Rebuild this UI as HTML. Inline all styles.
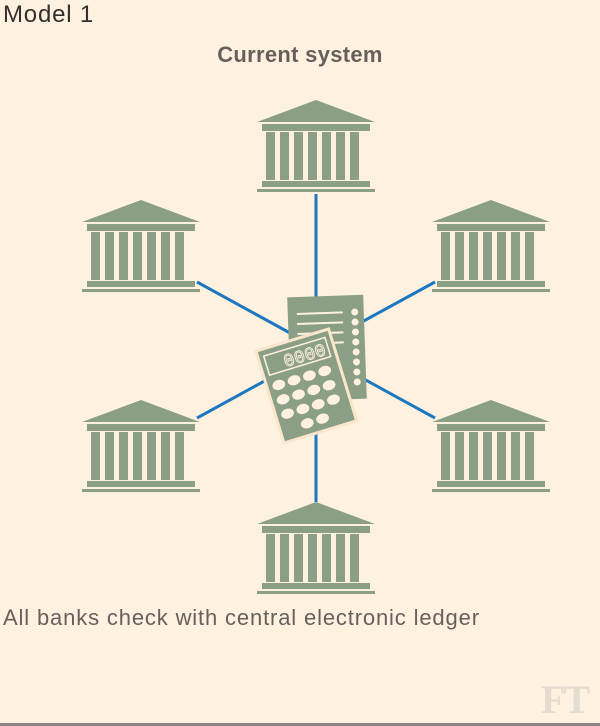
<!DOCTYPE html>
<html><head><meta charset="utf-8"><style>
html,body{margin:0;padding:0;background:#fff1e0;}
body{width:600px;height:726px;position:relative;overflow:hidden;font-family:"Liberation Sans",sans-serif;}
.t1{position:absolute;left:3px;top:1px;font-size:24px;letter-spacing:0.8px;color:#33302e;}
.t2{position:absolute;left:0;width:600px;top:42px;text-align:center;font-size:22px;font-weight:bold;color:#66605c;letter-spacing:0.3px;}
.cap{position:absolute;left:3px;top:605px;font-size:22px;letter-spacing:0.85px;color:#66605c;}
.ft{position:absolute;left:541px;top:676px;font-family:"Liberation Serif",serif;font-size:40px;font-weight:bold;color:#e6dbd0;letter-spacing:-2px;}
.bl{position:absolute;left:0;top:723px;width:600px;height:3px;background:#8a8580;}
</style></head><body>
<div class="t1">Model 1</div>
<div class="t2">Current system</div>
<svg width="600" height="726" style="position:absolute;left:0;top:0">
<defs>
<g id="bank" fill="#8a9f85">
<polygon points="0,24 59,2 118,24"/>
<rect x="5" y="26" width="108" height="7"/>
<rect x="9" y="34" width="9" height="48"/>
<rect x="23" y="34" width="9" height="48"/>
<rect x="37" y="34" width="9" height="48"/>
<rect x="51" y="34" width="9" height="48"/>
<rect x="65" y="34" width="9" height="48"/>
<rect x="79" y="34" width="9" height="48"/>
<rect x="93" y="34" width="9" height="48"/>
<rect x="5" y="83" width="108" height="6"/>
<rect x="0" y="91" width="118" height="3"/>
</g>
</defs>
<g stroke="#1e78c0" stroke-width="3">
<line x1="316" y1="194" x2="316" y2="300"/>
<line x1="316" y1="430" x2="316" y2="502"/>
<line x1="197" y1="282" x2="290" y2="333"/>
<line x1="435" y1="282" x2="360" y2="323"/>
<line x1="197" y1="418" x2="270" y2="378"/>
<line x1="435" y1="418" x2="362" y2="378"/>
</g>
<use href="#bank" x="257" y="98"/>
<use href="#bank" x="82" y="198"/>
<use href="#bank" x="432" y="198"/>
<use href="#bank" x="82" y="398"/>
<use href="#bank" x="432" y="398"/>
<use href="#bank" x="257" y="500"/>
<!-- document -->
<g transform="rotate(-2 327 348)">
<rect x="289" y="296" width="76" height="104" fill="#8a9f85"/>
<g stroke="#fff1e0" stroke-width="2">
<line x1="298" y1="313" x2="344" y2="313"/><line x1="298" y1="323" x2="344" y2="323"/>
<line x1="298" y1="333" x2="344" y2="333"/><line x1="298" y1="343" x2="344" y2="343"/>
</g>
<g fill="#fff1e0">
<circle cx="356" cy="313" r="3.5"/><circle cx="356" cy="323" r="3.5"/><circle cx="356" cy="333" r="3.5"/>
<circle cx="356" cy="343" r="3.5"/><circle cx="356" cy="353" r="3.5"/><circle cx="356" cy="363" r="3.5"/>
<circle cx="356" cy="373" r="3.5"/><circle cx="356" cy="383" r="3.5"/>
</g>
</g>
<!-- calculator -->
<g transform="rotate(-17 306 385)">
<rect x="268" y="338" width="76" height="96" fill="#8a9f85" stroke="#fbe6cc" stroke-width="3"/>
<rect x="274" y="345" width="64" height="20" fill="none" stroke="#fff1e0" stroke-width="1.5"/>
<text x="335" y="362" text-anchor="end" font-family="Liberation Mono,monospace" font-size="18" fill="none" stroke="#fff1e0" stroke-width="0.9">0000</text>
<g fill="#fff1e0">
<ellipse cx="280" cy="377" rx="6.5" ry="5"/><ellipse cx="296" cy="377" rx="6.5" ry="5"/><ellipse cx="312" cy="377" rx="6.5" ry="5"/><ellipse cx="328" cy="377" rx="6.5" ry="5"/>
<ellipse cx="280" cy="392" rx="6.5" ry="5"/><ellipse cx="296" cy="392" rx="6.5" ry="5"/><ellipse cx="312" cy="392" rx="6.5" ry="5"/><ellipse cx="328" cy="392" rx="6.5" ry="5"/>
<ellipse cx="280" cy="407" rx="6.5" ry="5"/><ellipse cx="296" cy="407" rx="6.5" ry="5"/><ellipse cx="312" cy="407" rx="6.5" ry="5"/><ellipse cx="328" cy="407" rx="6.5" ry="5"/>
<ellipse cx="296" cy="422" rx="6.5" ry="5"/><ellipse cx="312" cy="422" rx="6.5" ry="5"/>
</g>
</g>
</svg>
<div class="cap">All banks check with central electronic ledger</div>
<div class="ft">FT</div>
<div class="bl"></div>
</body></html>
